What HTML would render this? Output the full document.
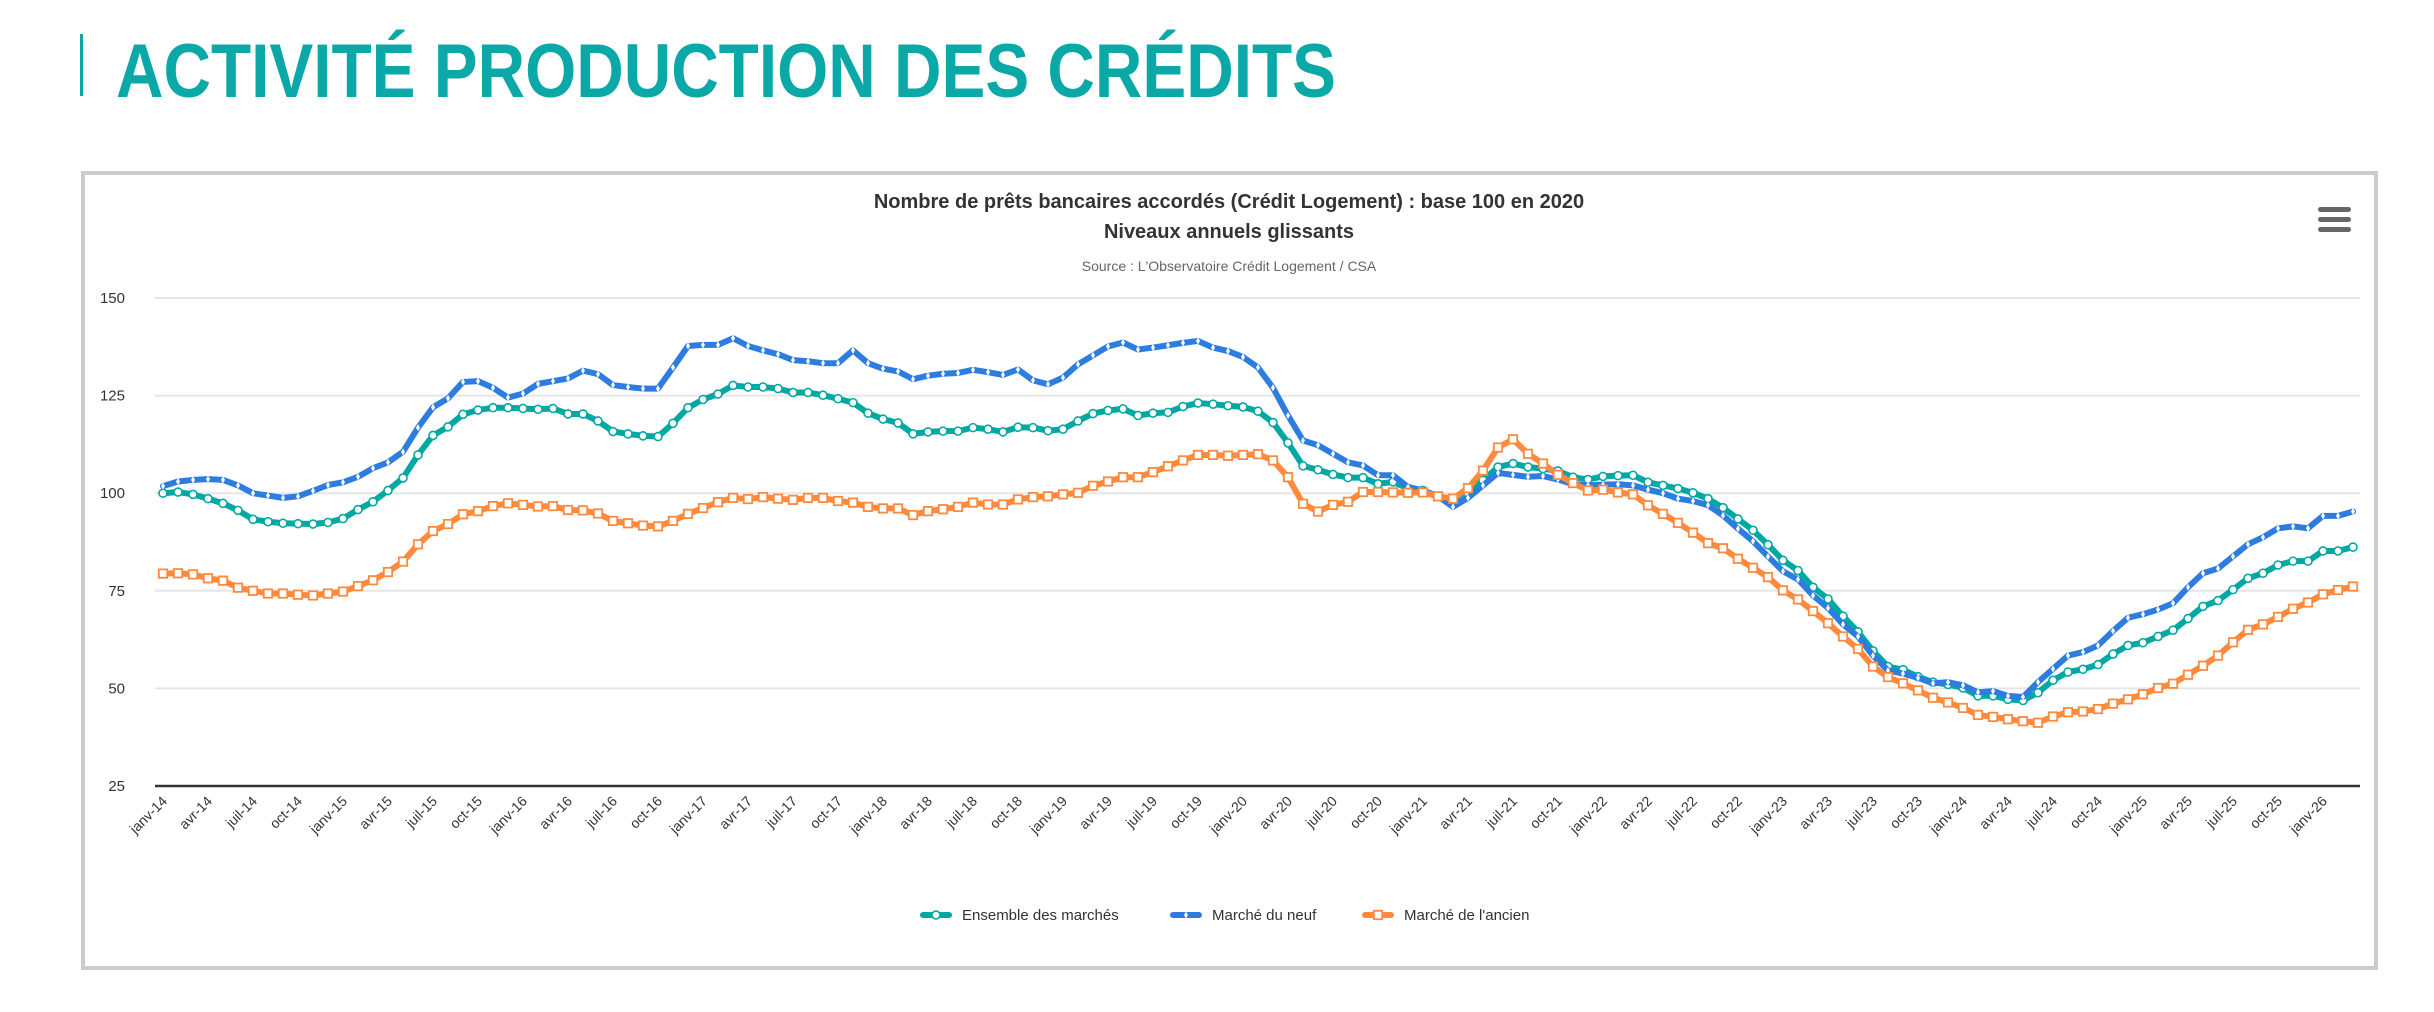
<!DOCTYPE html>
<html><head><meta charset="utf-8"><style>
html,body{margin:0;padding:0;background:#fff;}
svg{display:block;font-family:"Liberation Sans",sans-serif;}
</style></head><body>
<svg id="page" width="2434" height="1012" viewBox="0 0 2434 1012">
<rect x="80" y="34" width="3" height="62" fill="#0aa8a7"/>
<text x="116" y="97" font-size="76" font-weight="bold" fill="#0aa8a7" textLength="1220" lengthAdjust="spacingAndGlyphs">ACTIVITÉ PRODUCTION DES CRÉDITS</text>
<rect x="83" y="173" width="2293" height="795" fill="#fff" stroke="#cbcbcb" stroke-width="4"/>
<text x="1229" y="208" font-size="20" font-weight="bold" fill="#333" text-anchor="middle">Nombre de prêts bancaires accordés (Crédit Logement) : base 100 en 2020</text>
<text x="1229" y="238" font-size="20" font-weight="bold" fill="#333" text-anchor="middle">Niveaux annuels glissants</text>
<text x="1229" y="271" font-size="14" fill="#666" text-anchor="middle">Source : L'Observatoire Crédit Logement / CSA</text>
<g>
<rect x="2318" y="207" width="33" height="5" rx="2.5" fill="#666"/>
<rect x="2318" y="217" width="33" height="5" rx="2.5" fill="#666"/>
<rect x="2318" y="227" width="33" height="5" rx="2.5" fill="#666"/>
</g>
<g id="grid"></g><g id="xlabels"></g><g id="series"></g>
<g id="legend"></g>
</svg>
<script>
const yTicks=[25,50,75,100,125,150];
const monthNames=["janv","févr","mars","avr","mai","juin","juil","août","sept","oct","nov","déc"];
const startYear=14;
const ensemble=[100,100.3,99.7,98.6,97.4,95.6,93.3,92.7,92.3,92.2,92.1,92.5,
93.5,95.8,97.8,100.7,103.9,109.8,114.8,117,120.2,121.3,121.9,121.9,
121.7,121.5,121.7,120.3,120.3,118.5,115.8,115.2,114.7,114.5,117.9,121.9,
124,125.4,127.6,127.2,127.2,126.8,125.8,125.8,125.1,
124.2,123.2,120.5,119,118,115.2,115.7,115.9,115.9,116.8,116.4,115.7,116.9,116.8,116,116.4,118.5,120.4,121.2,121.6,119.9,120.5,120.7,122.2,123.1,122.8,122.4,122.1,121,118.1,112.9,107,106,104.8,104,104,102.4,
102.9,101.2,100.7,99.2,98.2,99.9,103.3,106.7,107.6,106.7,106.3,105.7,104.1,103.5,104.3,104.5,104.6,102.8,102,101.2,100.1,98.6,96.3,93.4,90.5,86.8,82.8,80.2,
75.9,72.9,68.5,64.5,59.6,55.6,54.8,53,51.6,51,50.1,48.1,48.1,47.2,46.9,48.9,52.1,54.2,54.9,56.1,58.8,61,61.7,63.3,64.9,67.9,71,72.5,75.3,78.2,79.5,81.6,82.6,82.6,85.2,85.2,86.2];
const neuf=[101.8,103,103.4,103.6,103.4,102,100,99.4,98.8,99.2,100.6,102.1,
102.8,104.2,106.4,107.9,110.6,116.8,122,124.3,128.5,128.7,127,124.5,
125.5,128,128.7,129.4,131.4,130.5,127.7,127.2,126.8,126.8,132.2,137.7,
138,138,139.7,137.7,136.6,135.6,134.1,133.8,133.3,
133.3,136.6,133.3,131.9,131.2,129.2,130.1,130.6,130.8,131.6,131,130.3,131.7,128.9,127.9,129.6,133,135.3,137.6,138.6,136.8,137.3,137.9,138.5,139,137.3,136.4,134.9,132.2,127,119.9,113.5,112.3,110.1,107.9,107.1,104.6,
104.6,101.6,100.7,99.2,96.5,98.8,102,105.2,104.7,104.2,104.4,103.5,102.3,102,102.2,102.3,102,100.9,100,98.6,98,96.9,94.3,90.9,87.7,83.8,80,77.9,
73.8,70.6,66.4,63.3,58.4,54.6,53.8,52.7,51.3,51.6,50.8,49,49.3,48.1,47.8,51.6,55,58.4,59.3,61,64.7,68.1,69,70.2,71.8,75.9,79.5,80.7,83.8,86.9,88.7,91,91.5,91,94.2,94.2,95.3];
const ancien=[79.4,79.5,79.2,78.2,77.6,75.8,75,74.3,74.3,74,73.8,74.3,
74.8,76.2,77.7,79.8,82.5,86.9,90.3,92.1,94.6,95.4,96.7,97.4,
97,96.6,96.7,95.7,95.6,94.8,92.9,92.3,91.7,91.5,92.9,94.7,
96.2,97.7,98.8,98.5,99,98.6,98.3,98.8,98.8,
98,97.6,96.5,96.1,96.1,94.4,95.4,95.9,96.5,97.6,97.1,97.1,98.4,99,99.2,99.7,100.1,101.9,103,104.1,104.1,105.4,106.9,108.4,109.8,109.8,109.6,109.8,110,108.4,104.1,97.3,95.3,97,97.8,100.3,100.3,
100.2,100.1,100.2,99.2,98.6,101.3,105.8,111.7,113.8,110.1,107.6,104.7,102.6,100.7,100.9,100.2,99.7,96.9,94.7,92.4,89.9,87.2,85.9,83.2,80.9,78.5,75.1,72.8,
69.8,66.7,63.3,60.1,55.6,52.9,51.3,49.5,47.6,46.4,45,43.2,42.7,42.1,41.6,41.2,42.8,43.9,44.1,44.7,46.1,47.2,48.5,50.1,51.2,53.5,55.8,58.4,61.8,65,66.4,68.3,70.4,72,74.1,75.2,76.1];
const seriesNames=["Ensemble des marchés","Marché du neuf","Marché de l'ancien"];

const NS="http://www.w3.org/2000/svg";
const X0=163,DX=15,PL=155,PR=2360;
function xAt(i){return X0+i*DX;}
function yAt(v){return 786-(v-25)*(488/125);}
function mk(tag,attrs,parent){const e=document.createElementNS(NS,tag);for(const k in attrs)e.setAttribute(k,attrs[k]);parent.appendChild(e);return e;}
const n=ensemble.length;
const categories=[];
for(let i=0;i<n;i++){categories.push(monthNames[i%12]+"-"+(startYear+Math.floor(i/12)));}

const grid=document.getElementById('grid');
yTicks.forEach(t=>{
  const y=yAt(t);
  const l=mk('line',{x1:PL,x2:PR,y1:y,y2:y,stroke:t===25?'#333':'#e6e6e6','stroke-width':t===25?2.5:2},grid);
  
  
  const tx=mk('text',{x:125,y:y+5,'font-size':15,fill:'#333','text-anchor':'end'},grid);
  tx.textContent=t;
  
  
});
const xl=document.getElementById('xlabels');
for(let i=0;i<n;i+=3){
  const x=xAt(i)+5,y=802;
  const t=mk('text',{x:x,y:y,'font-size':14,fill:'#333','text-anchor':'end',transform:'rotate(-45 '+x+' '+y+')'},xl);
  t.textContent=categories[i];
  
  
}
const colors=['#00a8a3','#2d7de0','#ff8a3d'];
const datasets=[ensemble,neuf,ancien];
const kinds=['circle','diamond','square'];
function marker(g,kind,x,y,c,s){
  let e;
  if(kind==='circle')e=mk('circle',{cx:x,cy:y,r:4*s,fill:'#fff',stroke:c,'stroke-width':1.6},g);
  else if(kind==='diamond')e=mk('path',{d:`M${x} ${y-3.5*s}L${x+2*s} ${y}L${x} ${y+3.5*s}L${x-2*s} ${y}Z`,fill:'#fff'},g);
  else e=mk('rect',{x:x-4.2*s,y:y-4.2*s,width:8.4*s,height:8.4*s,fill:'#fff',stroke:c,'stroke-width':1.8},g);
  return e;
}
const sg=document.getElementById('series');
datasets.forEach((d,si)=>{
  const g=mk('g',{},sg);
  
  
  const pts=d.map((v,i)=>xAt(i)+','+yAt(v)).join(' ');
  const pl=mk('polyline',{points:pts,fill:'none',stroke:colors[si],'stroke-width':6,'stroke-linejoin':'round','stroke-linecap':'round'},g);
  
  
  d.forEach((v,i)=>{
    const m=marker(g,kinds[si],xAt(i),yAt(v),colors[si],1);
    
    
  });
});
const lg=document.getElementById('legend');
const lx=[920,1170,1362];
seriesNames.forEach((nm,si)=>{
  const g=mk('g',{},lg);
  
  
  mk('line',{x1:lx[si]+3,x2:lx[si]+29,y1:915,y2:915,stroke:colors[si],'stroke-width':6,'stroke-linecap':'round'},g);
  marker(g,kinds[si],lx[si]+16,915,colors[si],1);
  const t=mk('text',{x:lx[si]+42,y:920,'font-size':15,fill:'#333'},g);
  t.textContent=nm;
});
</script>
</body></html>
